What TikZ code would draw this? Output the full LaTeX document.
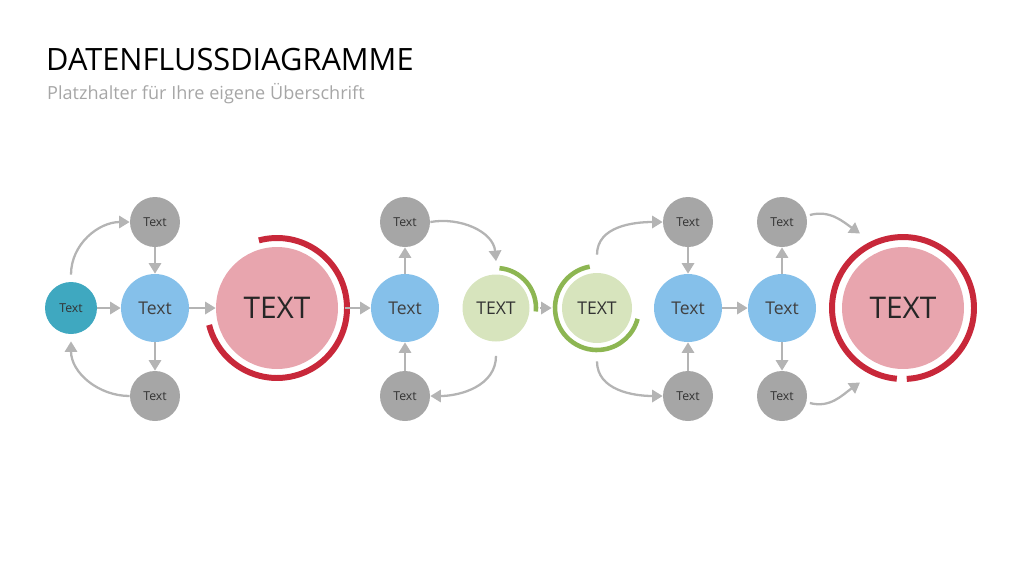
\documentclass[tikz,border=0pt]{standalone}
\usepackage{fontspec}
\setmainfont{Open Sans}
\usetikzlibrary{arrows.meta}
\definecolor{tealc}{RGB}{63,168,192}
\definecolor{bluec}{RGB}{133,192,234}
\definecolor{grayc}{RGB}{166,166,166}
\definecolor{pinkc}{RGB}{232,165,174}
\definecolor{redc}{RGB}{200,40,58}
\definecolor{lgreen}{RGB}{215,228,189}
\definecolor{dgreen}{RGB}{141,182,82}
\definecolor{arrowc}{RGB}{180,180,180}
\tikzset{
	smallc/.style={circle, fill=grayc, minimum size=1cm, inner sep=0pt, font=\fontsize{7}{8}\selectfont, text=black!80},
	tealnode/.style={circle, fill=tealc, minimum size=1.04cm, inner sep=0pt, font=\fontsize{7}{8}\selectfont, text=black!80},
	bluenode/.style={circle, fill=bluec, minimum size=1.36cm, inner sep=0pt, font=\fontsize{10}{12}\selectfont, text=black!75},
	pinknode/.style={circle, fill=pinkc, minimum size=2.44cm, inner sep=0pt, font=\fontsize{17}{20}\selectfont, text=black!85},
	greennode/.style={circle, fill=lgreen, minimum size=1.34cm, inner sep=0pt, font=\fontsize{10}{12}\selectfont, text=black!80},
	flow/.style={-{Triangle[length=6pt,width=7pt]}, arrowc, line width=1.3pt},
	redarc/.style={redc, line width=3.4pt},
	greenarc/.style={dgreen, line width=2.6pt},
}
\begin{document}
\begin{tikzpicture}[x=0.02cm, y=-0.02cm]
	\useasboundingbox (0,0) rectangle (1024,576);
	
	%
	% Titles
	\node[anchor=west, font=\fontsize{17.5}{20}\selectfont] (title) at (40,60) {DATENFLUSSDIAGRAMME};
	\node[anchor=west, font=\fontsize{10.3}{12}\selectfont, text=grayc] (sub) at (41,94) {Platzhalter für Ihre eigene Überschrift};
	
	%
	% Nodes, first group
	\node[tealnode] (T1) at (71,308) {Text};
	\node[bluenode] (B1) at (155,308) {Text};
	\node[smallc] (G1t) at (155,222) {Text};
	\node[smallc] (G1b) at (155,396) {Text};
	\node[pinknode] (P1) at (277,308) {TEXT};
	
	%
	% Nodes, second group
	\node[bluenode] (B2) at (405,308) {Text};
	\node[smallc] (G2t) at (405,222) {Text};
	\node[smallc] (G2b) at (405,396) {Text};
	\node[greennode] (L1) at (496,308) {TEXT};
	\node[greennode, minimum size=1.4cm] (L2) at (597,308) {TEXT};
	
	%
	% Nodes, third group
	\node[bluenode] (B3) at (688,308) {Text};
	\node[smallc] (G3t) at (688,222) {Text};
	\node[smallc] (G3b) at (688,396) {Text};
	\node[bluenode] (B4) at (782,308) {Text};
	\node[smallc] (G4t) at (782,222) {Text};
	\node[smallc] (G4b) at (782,396) {Text};
	\node[pinknode] (P2) at (903,308) {TEXT};
	
	%
	% Rings
	\draw[redarc] ([shift={(105:1.4cm)}]P1.center) arc[start angle=105, end angle=-166, radius=1.4cm];
	\draw[greenarc] ([shift={(85:0.8cm)}]L1.center) arc[start angle=85, end angle=-5, radius=0.8cm];
	\draw[greenarc] ([shift={(100:0.84cm)}]L2.center) arc[start angle=100, end angle=345, radius=0.84cm];
	\draw[redarc] ([shift={(-87:1.42cm)}]P2.center) arc[start angle=-87, end angle=265, radius=1.42cm];
	
	%
	% Straight arrows
	\draw[flow] (T1) -- (B1);
	\draw[flow] (G1t) -- (B1);
	\draw[flow] (B1) -- (G1b);
	\draw[flow] (B1) -- (P1);
	\draw[flow] ([xshift=0.14cm]P1.east) -- (B2);
	\draw[flow] (B2) -- (G2t);
	\draw[flow] (G2b) -- (B2);
	\draw[flow] ([xshift=0.2cm]L1.east) -- ([xshift=-0.2cm]L2.west);
	\draw[flow] (G3t) -- (B3);
	\draw[flow] (G3b) -- (B3);
	\draw[flow] (B3) -- (B4);
	\draw[flow] (B4) -- (G4t);
	\draw[flow] (B4) -- (G4b);
	
	%
	% Curved arrows
	\draw[flow] ([yshift=0.14cm]T1.north) to[out=90, in=180] (G1t.west);
	\draw[flow] (G1b.west) to[out=180, in=270] ([yshift=-0.14cm]T1.south);
	\draw[flow] (G2t.east) to[out=10, in=95] ([yshift=0.26cm]L1.north);
	\draw[flow] ([yshift=-0.28cm]L1.south) to[out=270, in=0] (G2b.east);
	\draw[flow] ([yshift=0.36cm]L2.north) to[out=90, in=180] (G3t.west);
	\draw[flow] ([yshift=-0.36cm]L2.south) to[out=270, in=180] (G3b.west);
	\draw[flow] ([xshift=0.05cm,yshift=0.14cm]G4t.east) to[out=15, in=145] ([shift={(120:1.72cm)}]P2.center);
	\draw[flow] ([xshift=0.05cm,yshift=-0.14cm]G4b.east) to[out=-15, in=-145] ([shift={(-120:1.72cm)}]P2.center);
	
\end{tikzpicture}
\end{document}
